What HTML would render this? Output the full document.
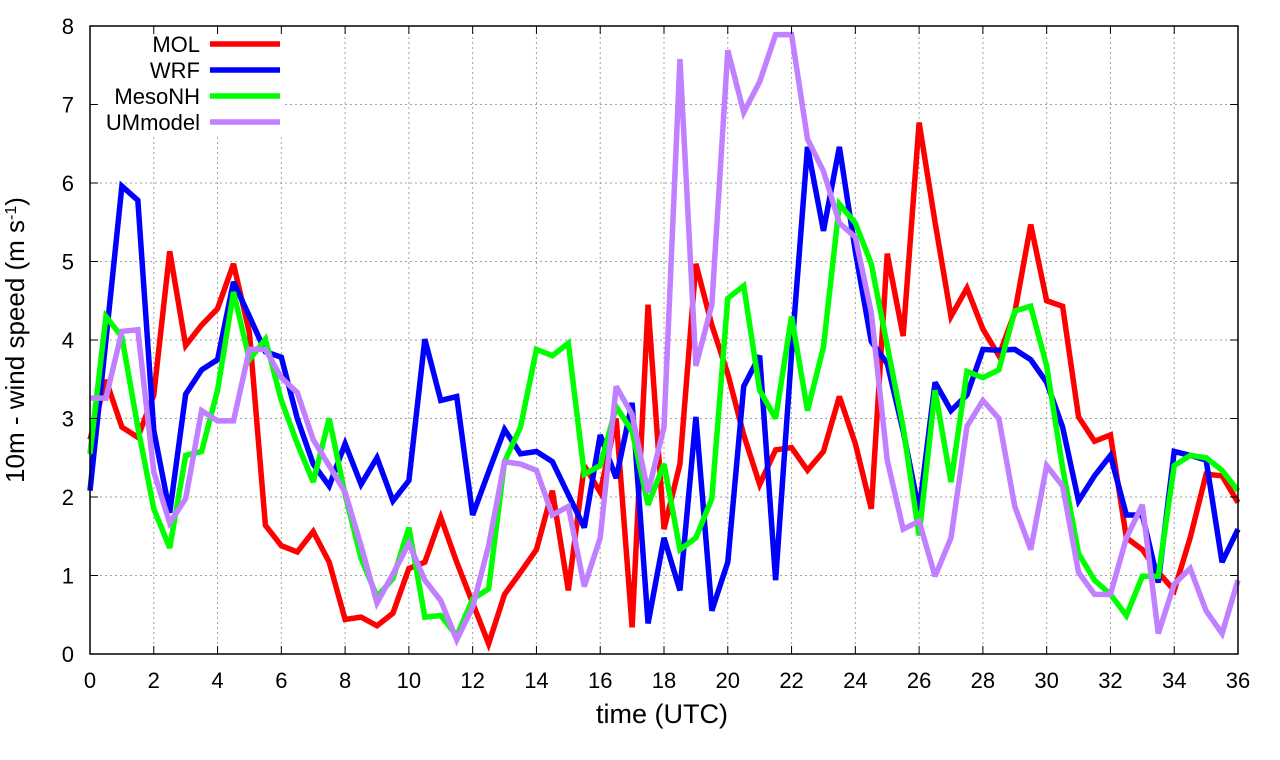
<!DOCTYPE html>
<html><head><meta charset="utf-8"><style>
body{margin:0;background:#fff;}
svg{display:block;font-family:"Liberation Sans",sans-serif;}
</style></head><body>
<svg id="chart" width="1280" height="760">
<g id="grid"></g>
<g id="series"></g>
<g id="legend"></g>
<rect x="90" y="26" width="1148" height="628" fill="none" stroke="#000" stroke-width="1.5"/>
<g id="axes"></g>
<text x="662" y="723" font-size="27" text-anchor="middle">time (UTC)</text>
<text transform="translate(24,340) rotate(-90)" font-size="26" text-anchor="middle">10m - wind speed  (m s<tspan baseline-shift="super" font-size="16">-1</tspan>)</text>
</svg>
<script>
const times = Array.from({length:73},(_,i)=>i*0.5);
const xTicks = [0,2,4,6,8,10,12,14,16,18,20,22,24,26,28,30,32,34,36];
const yTicks = [0,1,2,3,4,5,6,7,8];
const seriesNames = ["MOL","WRF","MesoNH","UMmodel"];
const seriesColors = ["#ff0000","#0000ff","#00ff00","#c080ff"];
const mol = [2.73,3.49,2.89,2.76,3.3,5.13,3.93,4.19,4.4,4.97,4.09,1.64,1.38,1.3,1.56,1.17,0.44,0.47,0.36,
0.52,1.09,1.17,1.74,1.17,0.65,0.13,0.76,1.04,1.33,2.08,0.81,2.4,2.06,3.0,0.34,4.45,1.59,
2.42,4.97,4.19,3.57,2.79,2.16,2.6,2.63,2.34,2.58,3.28,2.68,1.85,5.1,4.05,6.77,5.5,4.3,4.66,
4.14,3.8,4.35,5.47,4.5,4.43,3.02,2.71,2.79,1.48,1.33,1.04,0.81,1.48,2.29,2.27,1.93];
const wrf = [2.08,4.0,5.96,5.78,2.85,1.8,3.31,3.62,3.75,4.74,4.3,3.85,3.78,3.0,2.42,2.14,2.68,2.16,2.5,
1.95,2.21,4.01,3.23,3.28,1.77,2.32,2.86,2.55,2.58,2.45,2.03,1.61,2.79,2.24,3.2,0.39,1.48,
0.81,3.02,0.55,1.17,3.41,3.8,0.94,3.83,6.46,5.39,6.46,5.13,3.98,3.7,2.84,1.82,3.46,3.1,3.3,
3.88,3.87,3.88,3.75,3.46,2.89,1.95,2.27,2.53,1.77,1.77,0.91,2.58,2.53,2.47,1.17,1.59];
const mesonh = [2.55,4.3,4.04,2.89,1.85,1.35,2.53,2.58,3.36,4.61,3.75,4.01,3.23,2.68,2.19,3.0,2.03,1.22,0.73,
0.96,1.61,0.47,0.49,0.23,0.7,0.83,2.45,2.89,3.88,3.8,3.96,2.29,2.4,3.15,2.84,1.9,2.42,
1.33,1.48,1.98,4.53,4.69,3.36,3.0,4.3,3.1,3.91,5.73,5.49,4.97,3.93,2.89,1.51,3.36,2.19,3.6,
3.52,3.62,4.37,4.43,3.67,2.37,1.28,0.94,0.76,0.49,0.99,0.99,2.4,2.53,2.5,2.34,2.08];
const ummodel = [3.26,3.26,4.11,4.13,2.32,1.67,1.98,3.1,2.97,2.97,3.88,3.88,3.52,3.33,2.73,2.4,2.06,1.38,0.65,
1.02,1.41,0.94,0.68,0.18,0.6,1.38,2.45,2.42,2.34,1.77,1.88,0.86,1.48,3.41,3.05,2.06,2.89,
7.58,3.67,4.45,7.69,6.9,7.29,7.89,7.89,6.56,6.15,5.49,5.31,4.35,2.47,1.59,1.69,0.99,1.48,2.9,
3.23,3.0,1.88,1.33,2.4,2.14,1.04,0.76,0.76,1.48,1.9,0.26,0.89,1.09,0.55,0.26,0.94];
const allSeries = [mol,wrf,mesonh,ummodel];

const NS="http://www.w3.org/2000/svg";
const X0=90,X1=1238,Y0=654,Y1=26;
const xs=t=>X0+(t-0)/36*(X1-X0);
const ys=v=>Y0-(v-0)/8*(Y0-Y1);
function mk(tag,attrs,parent){const e=document.createElementNS(NS,tag);for(const k in attrs)e.setAttribute(k,attrs[k]);parent.appendChild(e);return e;}
const grid=document.getElementById('grid'),axes=document.getElementById('axes'),series=document.getElementById('series'),legend=document.getElementById('legend');
xTicks.forEach(t=>{
  if(t>0&&t<36){const g=mk('line',{x1:xs(t),x2:xs(t),y1:Y0,y2:Y1,stroke:'#a0a0a0','stroke-width':1,'stroke-dasharray':'2,3'},grid);
  
  }
  const tk=mk('path',{d:`M${xs(t)},${Y0}v-8M${xs(t)},${Y1}v8`,stroke:'#000','stroke-width':1},axes);
  
  
  const lb=mk('text',{x:xs(t),y:688,'font-size':22,'text-anchor':'middle'},axes);lb.textContent=t;
  
  
});
yTicks.forEach(v=>{
  if(v>0&&v<8){const g=mk('line',{x1:X0,x2:X1,y1:ys(v),y2:ys(v),stroke:'#a0a0a0','stroke-width':1,'stroke-dasharray':'2,3'},grid);
  
  }
  const tk=mk('path',{d:`M${X0},${ys(v)}h8M${X1},${ys(v)}h-8`,stroke:'#000','stroke-width':1},axes);
  
  
  const lb=mk('text',{x:74,y:ys(v)+8,'font-size':22,'text-anchor':'end'},axes);lb.textContent=v;
  
  
});
const bg=mk('rect',{x:92,y:28,width:192,height:106,fill:'#fff'},grid);


allSeries.forEach((d,si)=>{
  const p=mk('polyline',{points:d.map((v,i)=>xs(times[i])+','+ys(v)).join(' '),fill:'none',stroke:seriesColors[si],'stroke-width':5.5,'stroke-linejoin':'miter','stroke-miterlimit':3},series);
  
  
  const y=44+si*26;
  const t=mk('text',{x:200,y:y+8,'font-size':22,'text-anchor':'end'},legend);t.textContent=seriesNames[si];
  
  
  const l=mk('line',{x1:210,x2:280,y1:y,y2:y,stroke:seriesColors[si],'stroke-width':5.5},legend);
  
  
});
</script>
</body></html>
